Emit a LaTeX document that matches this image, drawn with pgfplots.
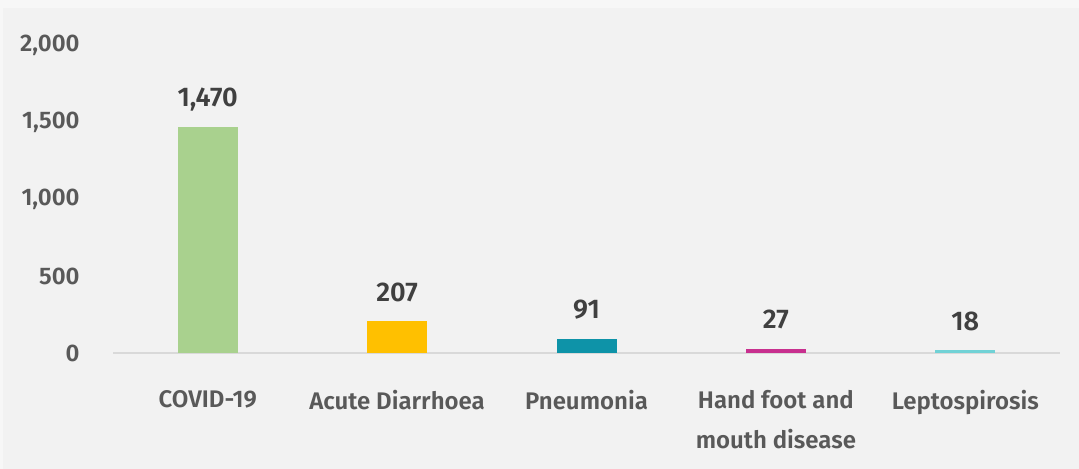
\documentclass[border=0pt]{standalone}
\usepackage{fontspec}
\setmainfont{Fira Sans}[BoldFont={Fira Sans SemiBold}]
\usepackage{pgfplots}
\pgfplotsset{compat=1.18}
\definecolor{bg}{HTML}{F2F2F2}
\definecolor{bgl}{HTML}{F7F7F7}
\definecolor{tick}{HTML}{595959}
\definecolor{lab}{HTML}{404040}
\definecolor{base}{HTML}{D9D9D9}
\definecolor{cA}{HTML}{A9D18E}
\definecolor{cB}{HTML}{FFC000}
\definecolor{cC}{HTML}{0E93A8}
\definecolor{cD}{HTML}{C8308F}
\definecolor{cE}{HTML}{71D2D6}
\begin{document}
\begin{tikzpicture}
\fill[bgl] (0,0) rectangle (539.5pt,234.5pt);
\fill[bg] (1.5pt,0) rectangle (539.5pt,230.5pt);
\useasboundingbox (0,0) rectangle (539.5pt,234.5pt);
\begin{axis}[
  at={(56.5pt,58pt)}, anchor=south west,
  scale only axis, width=473.5pt, height=154pt,
  xmin=-0.5, xmax=4.5, ymin=0, ymax=2000,
  axis x line=bottom, axis y line=left,
  x axis line style={-, draw=base, line width=0.75pt},
  y axis line style={draw=none},
  major tick length=0pt,
  ytick={0,500,1000,1500,2000},
  scaled y ticks=false,
  xtick={0,1,2,3,4},
  xticklabels={COVID-19, Acute Diarrhoea, Pneumonia, {Hand foot and\\mouth disease}, Leptospirosis},
  /pgf/number format/.cd, 1000 sep={,}, assume math mode=true, /pgfplots/.cd,
  yticklabel style={anchor=east, inner sep=0pt, xshift=-16.5pt, font=\bfseries\fontsize{12}{14}\selectfont, text=tick},
  xticklabel style={anchor=north, inner sep=0pt, yshift=-18.5pt, align=center, font=\bfseries\fontsize{12}{20}\selectfont, text=tick},
  ybar, bar width=30pt, bar shift=0pt,
  nodes near coords,
  every node near coord/.append style={anchor=base, inner sep=0pt, yshift=10pt, font=\bfseries\fontsize{13.5}{16}\selectfont, text=lab},
]
\addplot[fill=cA, draw=none] coordinates {(0,1470)};
\addplot[fill=cB, draw=none] coordinates {(1,207)};
\addplot[fill=cC, draw=none] coordinates {(2,91)};
\addplot[fill=cD, draw=none] coordinates {(3,27)};
\addplot[fill=cE, draw=none] coordinates {(4,18)};
\end{axis}
\end{tikzpicture}
\end{document}
